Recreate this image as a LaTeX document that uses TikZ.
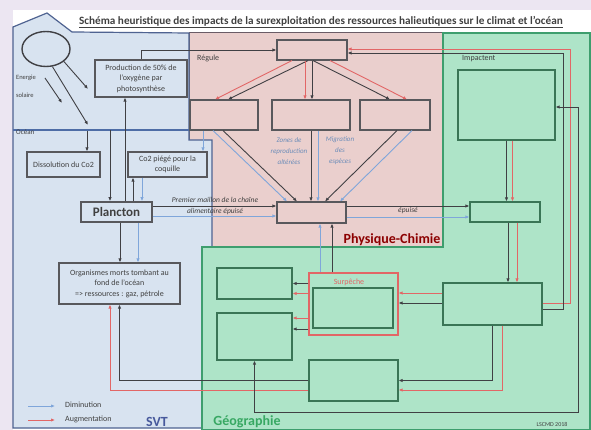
\documentclass[tikz,border=0pt]{standalone}
\usepackage{fontspec}
\setmainfont{Carlito}
\usepackage{xcolor}
\usetikzlibrary{arrows.meta,calc,positioning,shapes.geometric}

\definecolor{fond}{HTML}{ECE6F2}
\definecolor{svtfond}{HTML}{D8E3F0}
\definecolor{svtbord}{HTML}{4F6391}
\definecolor{pcfond}{HTML}{EACFCD}
\definecolor{pcbord}{HTML}{6A5C66}
\definecolor{geofond}{HTML}{AEE4C8}
\definecolor{geobord}{HTML}{3E9E6E}
\definecolor{vertbord}{HTML}{3A7556}
\definecolor{boitebord}{HTML}{58585C}
\definecolor{flnoir}{HTML}{404044}
\definecolor{rouge}{HTML}{E26666}
\definecolor{bleu}{HTML}{7FA6DA}
\definecolor{ocean}{HTML}{4E6DA6}

\begin{document}
\begin{tikzpicture}[x=1pt,y=-1pt,
    every node/.style={text=black!75},
    boite/.style={draw=boitebord, line width=1.1pt, align=center, inner sep=1pt, font=\fontsize{8}{10.5}\selectfont},
    boitevert/.style={draw=vertbord, line width=1.1pt, fill=geofond},
    fl/.style={-{Latex[length=4pt,width=3.4pt]}, line width=0.9pt, draw=flnoir},
    flr/.style={fl, draw=rouge},
    flb/.style={fl, draw=bleu},
    etiq/.style={font=\fontsize{8}{9}\selectfont, inner sep=0pt},
    lblbleu/.style={align=center, inner sep=0pt, text=bleu!85!black, font=\itshape\fontsize{7}{11}\selectfont}]

    \useasboundingbox (0,0) rectangle (591,430);
    \fill[fond] (0,0) rectangle (591,430);
    \fill[white] (13,10) rectangle (591,430);

    \filldraw[fill=pcfond, draw=pcbord, line width=1pt] (189,33) rectangle (447,247);
    \filldraw[fill=svtfond, draw=svtbord, line width=1.2pt] (13,428) -- (13,27) -- (47,13) -- (72,32) -- (189,33) -- (189,140) -- (212,140) -- (212,428) -- cycle;
    \filldraw[fill=geofond, draw=geobord, line width=1.2pt] (443,33) -- (590,33) -- (590,430) -- (202,430) -- (202,247) -- (443,247) -- cycle;

    \node[font=\bfseries\fontsize{11.2}{13}\selectfont] (titre) at (321,22) {\underline{Schéma heuristique des impacts de la surexploitation des ressources halieutiques sur le climat et l'océan}};

    \node[draw=flnoir, line width=1.4pt, ellipse, minimum width=48pt, minimum height=35pt, inner sep=0pt] (soleil) at (46,49) {};
    \node[align=left, inner sep=0pt, font=\fontsize{6.5}{18}\selectfont] (energie) at (26,86) {Energie\\ solaire};

    \node[boite, fill=svtfond, minimum width=92pt, minimum height=37pt] (prod) at (141,78.5) {Production de 50\% de\\ l'oxygène par\\ photosynthèse};
    \node[boite, fill=pcfond, minimum width=70pt, minimum height=20pt] (regule) at (312,50) {};
    \node[boite, fill=pcfond, minimum width=68pt, minimum height=30pt] (zone1) at (224,115) {};
    \node[boite, fill=pcfond, minimum width=78pt, minimum height=30pt] (zone2) at (311,115) {};
    \node[boite, fill=pcfond, minimum width=70pt, minimum height=30pt] (zone3) at (395,115) {};
    \node[boite, fill=svtfond, minimum width=73pt, minimum height=25pt] (dissol) at (63.5,164.5) {Dissolution du Co2};
    \node[boite, fill=svtfond, minimum width=79pt, minimum height=25pt] (coquille) at (167.5,164.5) {Co2 piégé pour la\\ coquille};
    \node[boite, fill=svtfond, line width=1.6pt, minimum width=71pt, minimum height=20pt, font=\bfseries\fontsize{13}{14}\selectfont] (plancton) at (116.5,212) {Plancton};
    \node[boite, fill=pcfond, minimum width=69pt, minimum height=21pt] (chaine) at (311.5,212.5) {};
    \node[boite, fill=svtfond, minimum width=121pt, minimum height=41pt] (orga) at (119.5,283.5) {Organismes morts tombant au\\ fond de l'océan\\ => ressources : gaz, pétrole};

    \node[boite, boitevert, minimum width=97pt, minimum height=70pt] (impact) at (506.5,105) {};
    \node[boite, boitevert, minimum width=70pt, minimum height=20pt] (climat) at (505,212) {};
    \node[boite, boitevert, minimum width=99pt, minimum height=42pt] (societe) at (492.5,304) {};
    \node[draw=rouge, line width=1.1pt, minimum width=89pt, minimum height=62pt, inner sep=0pt] (surpeche) at (353.5,304) {};
    \node[boite, boitevert, minimum width=80pt, minimum height=40pt] (peche) at (353,308) {};
    \node[boite, boitevert, minimum width=75pt, minimum height=31pt] (geoA) at (254.5,283.5) {};
    \node[boite, boitevert, minimum width=75pt, minimum height=47pt] (geoB) at (254.5,336.5) {};
    \node[boite, boitevert, minimum width=89pt, minimum height=41pt] (geoC) at (353.5,380.5) {};

    \coordinate (r1a) at (45,78);
    \coordinate (r1b) at (62,103);
    \coordinate (r2b) at (88,125);
    \coordinate (r3b) at (88,89);
    \draw[fl] (r1a) -- (r1b);
    \draw[fl] (soleil.-70) -- (r2b);
    \draw[fl] (soleil.-35) -- (r3b);

    \coordinate (oceanO) at (13,130);
    \coordinate (oceanE) at (189,130);
    \draw[draw=ocean, line width=2.2pt] (oceanO) -- (oceanE);
    \node[etiq, anchor=west, font=\fontsize{7}{8}\selectfont] (oceanlbl) at (16,132) {Océan};

    \draw[fl] ($(r2b |- oceanO)+(-1,1)$) coordinate (od) -- (od |- dissol.north);
    \draw[fl] ($(plancton.north)+(-6.5,0)$) coordinate (pl1) (pl1 |- oceanO) -- (pl1);
    \draw[fl] ($(plancton.north)+(8.5,0)$) coordinate (pl2) -- (pl2 |- prod.south);
    \draw[fl] (prod.north) |- (regule.west);

    \draw[fl] ($(regule.south)+(-4,0)$) -- ($(zone1.north)+(4,0)$);
    \draw[flr] ($(regule.south)+(-20,0)$) -- ($(zone1.north)+(-9,0)$);
    \draw[fl] (regule.south) -- (regule.south |- zone2.north);
    \draw[flr] ($(regule.south)+(-7,0)$) coordinate (rg2) -- (rg2 |- zone2.north);
    \draw[fl] ($(regule.south)+(1,0)$) -- ($(zone3.north)+(-5,0)$);
    \draw[flr] ($(regule.south)+(18,0)$) -- ($(zone3.north)+(12,0)$);

    \draw[fl] ($(zone1.south)+(-1,0)$) -- ($(chaine.north)+(-14.5,0)$);
    \draw[flb] ($(zone1.south)+(-11,0)$) -- ($(chaine.north)+(-24.5,0)$);
    \draw[fl] (zone2.south) -- (zone2.south |- chaine.north);
    \draw[flb] ($(zone2.south)+(7,0)$) coordinate (z2b) -- (z2b |- chaine.north);
    \draw[fl] ($(zone3.south)+(2,0)$) -- ($(chaine.north)+(13.5,0)$);
    \draw[flb] ($(zone3.south)+(17,0)$) -- ($(chaine.north)+(28.5,0)$);
    \draw[flb] ($(zone1.south)+(-21,0)$) coordinate (zq) -- (zq |- coquille.north);

    \node[lblbleu] (reproduction) at (289,151) {Zones de\\ reproduction\\ altérées};
    \node[lblbleu] (migration) at (340,151) {Migration\\ des\\ espèces};

    \draw[fl] ($(plancton.north)+(16.5,0)$) coordinate (pq1) -- (pq1 |- coquille.south);
    \draw[flb] ($(coquille.south)+(-25.5,0)$) coordinate (pq2) -- (pq2 |- plancton.north);
    \draw[fl] ($(plancton.south)+(3.5,0)$) coordinate (po1) -- (po1 |- orga.north);
    \draw[flb] ($(plancton.south)+(21.5,0)$) coordinate (po2) -- (po2 |- orga.north);

    \draw[fl] ($(plancton.east)+(0,-6)$) coordinate (pc1) -- (pc1 -| chaine.west);
    \draw[flb] ($(plancton.east)+(0,4)$) coordinate (pc2) -- (pc2 -| chaine.west);
    \node[align=center, inner sep=0pt, font=\itshape\fontsize{7.5}{11}\selectfont] (maillon) at (215,206.5) {Premier maillon de la chaîne\\ alimentaire épuisé};

    \draw[fl] ($(chaine.east)+(0,-6.5)$) coordinate (cc1) -- (cc1 -| climat.west);
    \draw[flb] ($(chaine.east)+(0,4.5)$) coordinate (cc2) -- (cc2 -| climat.west);
    \node[inner sep=0pt, font=\itshape\fontsize{7.5}{9}\selectfont] (epuise) at (408,211) {épuisé};

    \draw[fl] ($(surpeche.north)+(-21.5,0)$) coordinate (sc1) -- (sc1 |- chaine.south);
    \draw[flb] ($(surpeche.north)+(-33.5,0)$) coordinate (sc2) -- (sc2 |- chaine.south);

    \draw[fl] (impact.south) -- (impact.south |- climat.north);
    \draw[flr] ($(impact.south)+(6,0)$) coordinate (ic) -- (ic |- climat.north);
    \draw[fl] ($(climat.south)+(3,0)$) coordinate (cs1) -- (cs1 |- societe.north);
    \draw[flr] ($(climat.south)+(12,0)$) coordinate (cs2) -- (cs2 |- societe.north);

    \draw[flr] ($(societe.east)+(0,-1)$) -- ++(28,0) |- ($(regule.east)+(0,-1)$);
    \draw[fl] ($(societe.east)+(0,5)$) -- ++(21,0) |- ($(regule.east)+(0,3)$);

    \draw[flr] ($(societe.west)+(0,-11)$) coordinate (ss1) -- (ss1 -| surpeche.east);
    \draw[fl] ($(societe.west)+(0,-1)$) coordinate (ss2) -- (ss2 -| surpeche.east);

    \draw[fl] (societe.south) |- (geoC.east);
    \draw[flr] ($(societe.south)+(9.5,0)$) |- ($(geoC.east)+(0,9.5)$);
    \draw[fl] (geoC.west) -| (orga.south);
    \draw[flr] ($(geoC.west)+(0,9.5)$) -| ($(orga.south)+(-9.5,0)$);

    \draw[fl] (surpeche.west |- geoA.east) -- (geoA.east);
    \draw[flr] ($(surpeche.west |- geoA.east)+(0,10)$) -- ($(geoA.east)+(0,10)$);
    \draw[flr] ($(surpeche.west |- geoB.east)+(0,-18.5)$) -- ($(geoB.east)+(0,-18.5)$);
    \draw[fl] ($(surpeche.west |- geoB.east)+(0,-7.5)$) -- ($(geoB.east)+(0,-7.5)$);

    \coordinate (boucle) at (578,412);
    \draw[fl, {Latex[length=4pt,width=3.4pt]}-{Latex[length=4pt,width=3.4pt]}] (geoB.south) |- (boucle) |- ($(impact.east)+(0,2)$);

    \node[etiq, anchor=west] (regulelbl) at (197,58) {Régule};
    \node[etiq, anchor=west] (impactlbl) at (462,59) {Impactent};
    \node[etiq, text=rouge] (surplbl) at (349,282) {Surpêche};

    \coordinate (legb) at (28,406);
    \coordinate (legr) at (28,420);
    \draw[flb] (legb) -- ++(27,0);
    \draw[flr] (legr) -- ++(27,0);
    \node[etiq, anchor=west] (diminution) at (65,405) {Diminution};
    \node[etiq, anchor=west] (augmentation) at (65,419) {Augmentation};

    \node[font=\bfseries\fontsize{14}{15}\selectfont, text=svtbord!90!blue] (svt) at (157,422) {SVT};
    \node[font=\bfseries\fontsize{14}{15}\selectfont, text=geobord!90!green] (geo) at (247,422) {Géographie};
    \node[font=\bfseries\fontsize{14}{15}\selectfont, text=red!55!black] (pc) at (392,240) {Physique-Chimie};
    \node[font=\fontsize{6}{7}\selectfont] (credit) at (552,424) {LSCMD 2018};
\end{tikzpicture}
\end{document}
